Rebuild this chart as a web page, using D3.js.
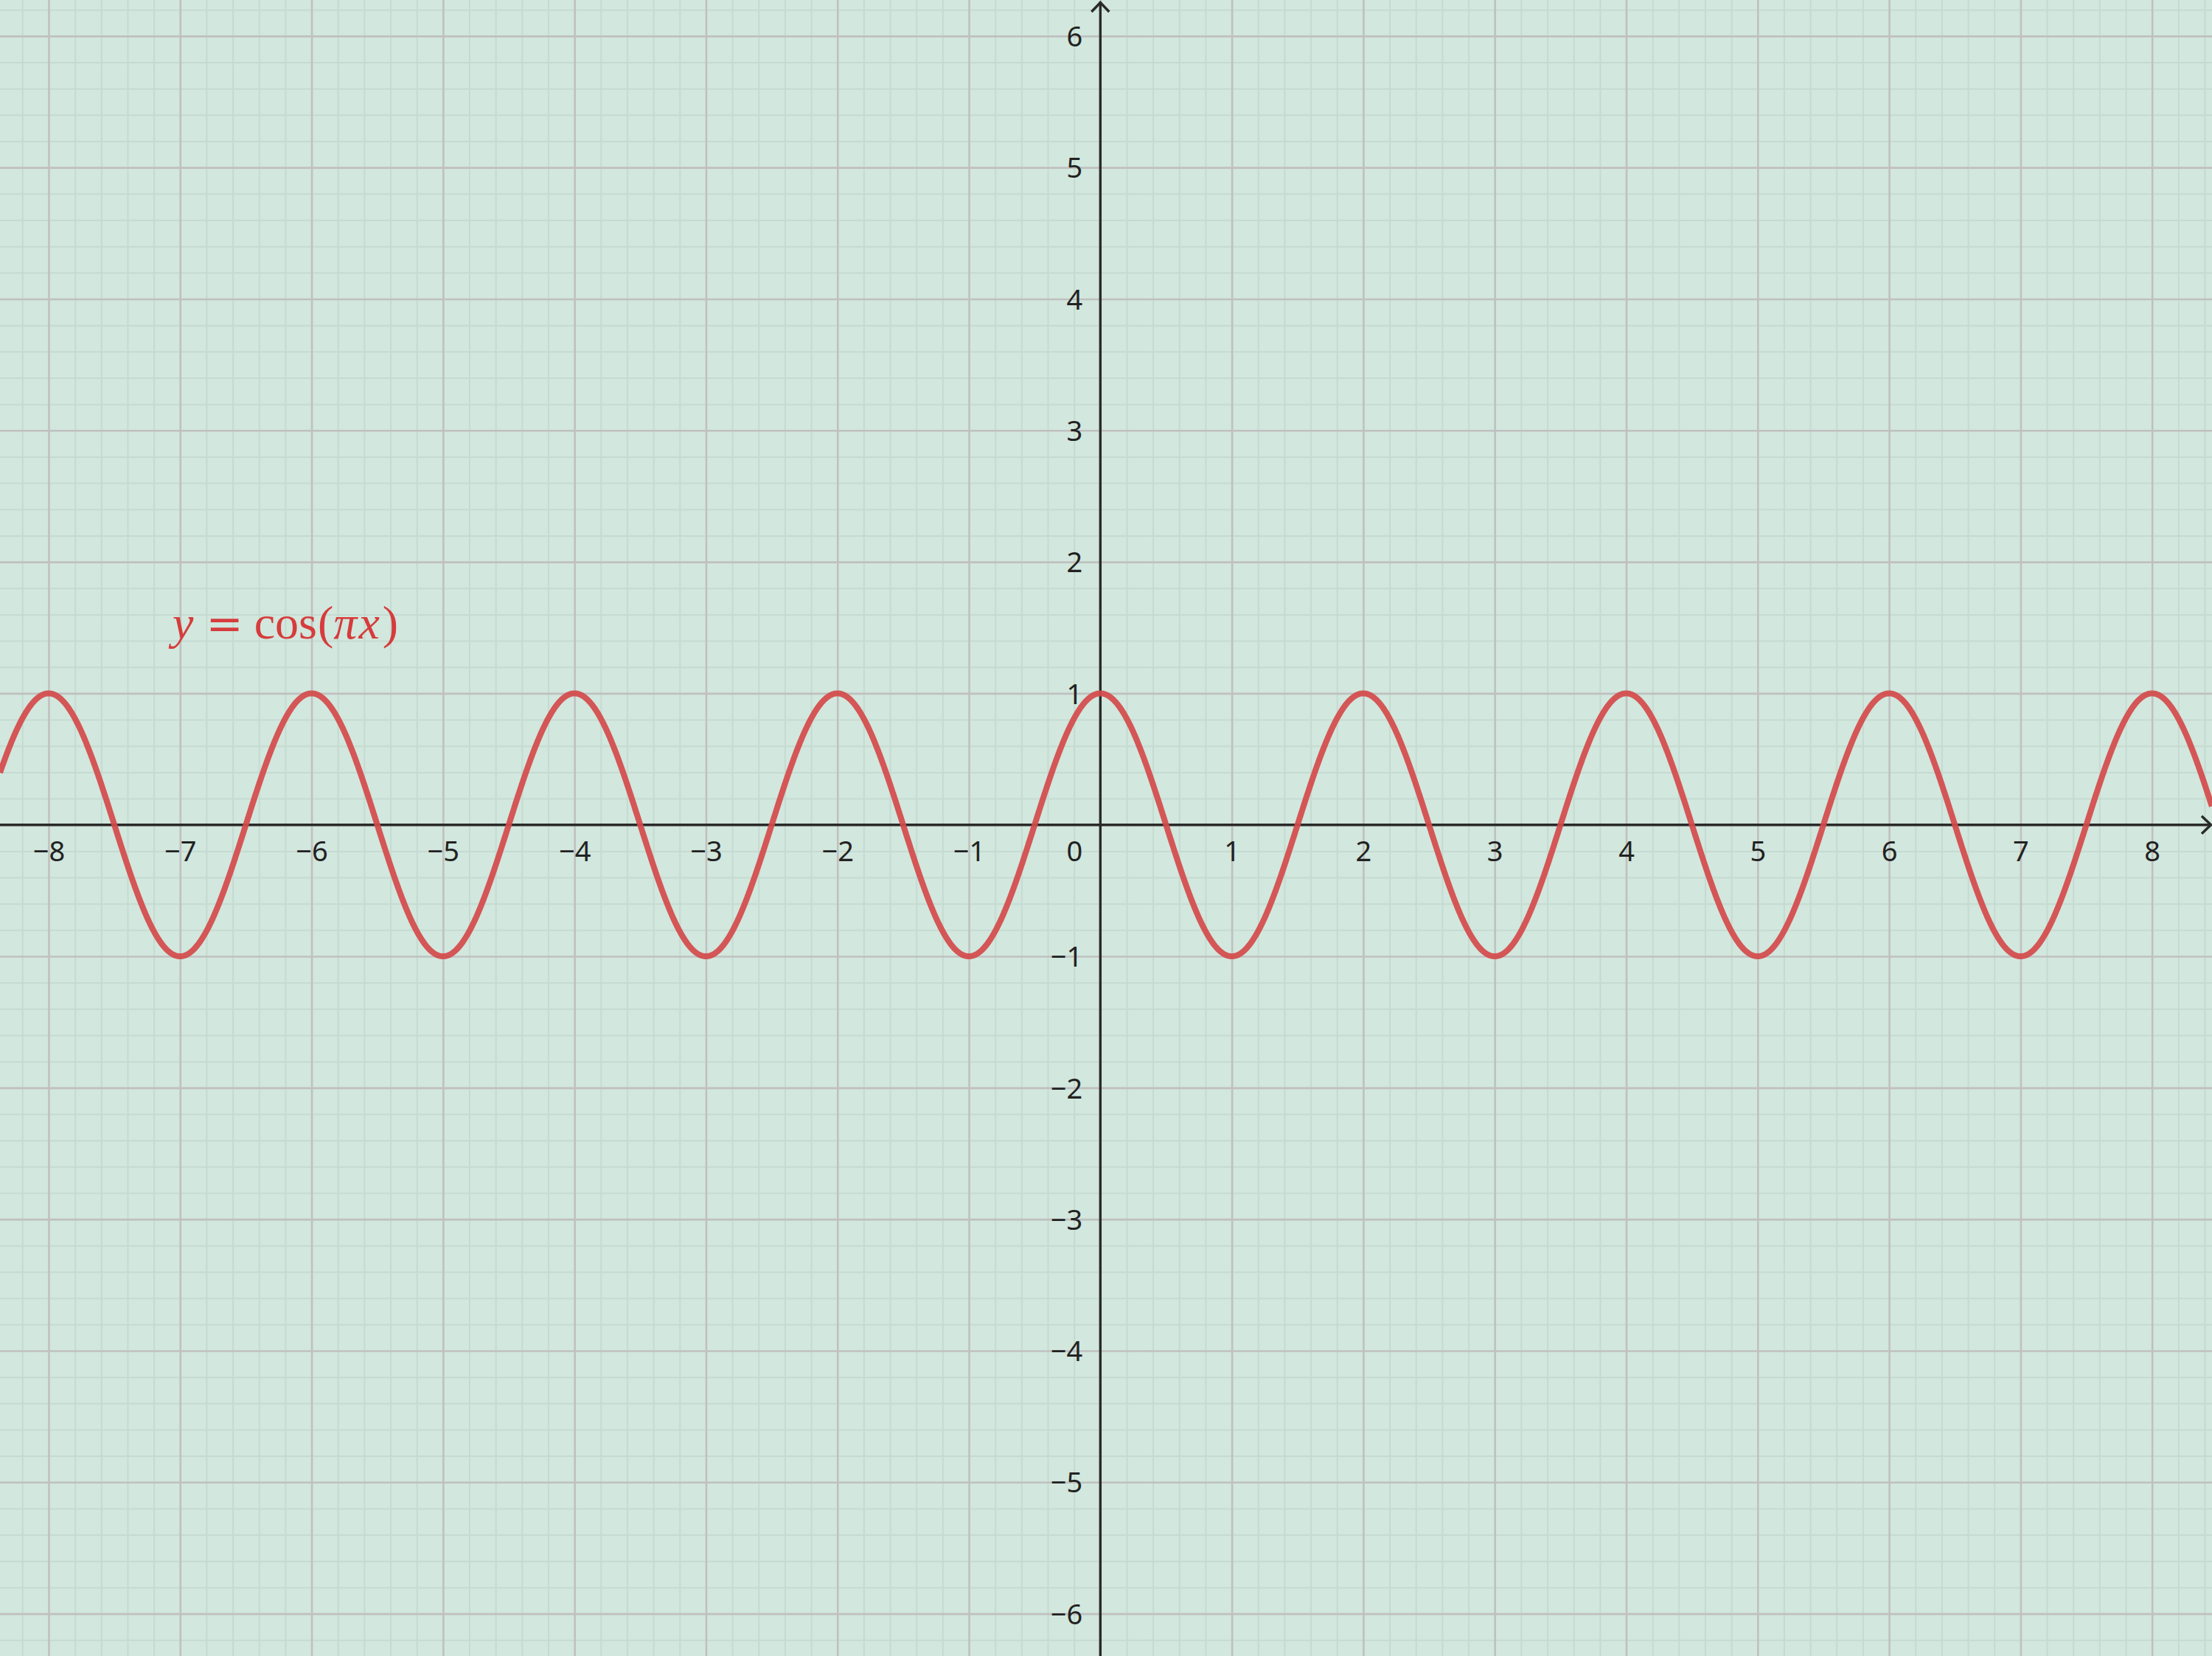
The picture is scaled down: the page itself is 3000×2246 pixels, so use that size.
<!DOCTYPE html>
<html>
<head>
<meta charset="utf-8">
<script src="https://cdn.jsdelivr.net/npm/d3@7"></script>
<style>
  html, body { margin: 0; padding: 0; background: #d2e7dd; }
  svg { display: block; }
</style>
</head>
<body>
<svg id="chart" width="3000" height="2246"></svg>
<script>
// ---- data ----
const xTicks = [-8, -7, -6, -5, -4, -3, -2, -1, 1, 2, 3, 4, 5, 6, 7, 8];
const yTicks = [-6, -5, -4, -3, -2, -1, 1, 2, 3, 4, 5, 6];
const xDomain = [-8.370, 8.456];
const yDomain = [-6.322, 6.274];
const minorStep = 0.2;
// plotted function: y = cos(πx)
const fnLabel = ["y", "=", "cos", "(", "π", "x", ")"];
const fnAmplitude = 1;
const fnFrequency = Math.PI;

// ---- setup ----
const W = 3000, H = 2246;
const svg = d3.select("#chart");
const x = d3.scaleLinear().domain(xDomain).range([0, W]);
const y = d3.scaleLinear().domain(yDomain).range([H, 0]);
const fmt = d3.format("d");

svg.append("rect").attr("width", W).attr("height", H).attr("fill", "#d2e7dd");

// grid values
const minorX = d3.range(Math.ceil(xDomain[0] / minorStep), Math.floor(xDomain[1] / minorStep) + 1)
  .map(i => +(i * minorStep).toFixed(4)).filter(v => Math.abs(v - Math.round(v)) > 1e-6);
const minorY = d3.range(Math.ceil(yDomain[0] / minorStep), Math.floor(yDomain[1] / minorStep) + 1)
  .map(i => +(i * minorStep).toFixed(4)).filter(v => Math.abs(v - Math.round(v)) > 1e-6);
const majorX = d3.range(Math.ceil(xDomain[0]), Math.floor(xDomain[1]) + 1);
const majorY = d3.range(Math.ceil(yDomain[0]), Math.floor(yDomain[1]) + 1);

function grid(g, axis, color, width) {
  g.call(axis);
  g.select(".domain").remove();
  g.selectAll(".tick line").attr("stroke", color).attr("stroke-width", width);
  g.selectAll(".tick text").remove();
}
svg.append("g").attr("transform", `translate(0,${H})`)
  .call(g => grid(g, d3.axisBottom(x).tickValues(minorX).tickSize(-H).tickFormat(""), "#c5dbd1", 2));
svg.append("g")
  .call(g => grid(g, d3.axisLeft(y).tickValues(minorY).tickSize(-W).tickFormat(""), "#c5dbd1", 2));
svg.append("g").attr("transform", `translate(0,${H})`)
  .call(g => grid(g, d3.axisBottom(x).tickValues(majorX).tickSize(-H).tickFormat(""), "#c0c0c0", 2.6));
svg.append("g")
  .call(g => grid(g, d3.axisLeft(y).tickValues(majorY).tickSize(-W).tickFormat(""), "#c0c0c0", 2.6));

// axes lines
const ox = x(0), oy = y(0);
const axisColor = "#2a2a2a";
svg.append("line").attr("x1", 0).attr("x2", W - 1).attr("y1", oy).attr("y2", oy)
  .attr("stroke", axisColor).attr("stroke-width", 3.4);
svg.append("line").attr("x1", ox).attr("x2", ox).attr("y1", 2).attr("y2", H)
  .attr("stroke", axisColor).attr("stroke-width", 3.4);
// arrowheads
svg.append("path").attr("d", `M${W - 14},${oy - 12} L${W - 1.5},${oy} L${W - 14},${oy + 12}`)
  .attr("fill", "none").attr("stroke", axisColor).attr("stroke-width", 3.4);
svg.append("path").attr("d", `M${ox - 12},16 L${ox},3.5 L${ox + 12},16`)
  .attr("fill", "none").attr("stroke", axisColor).attr("stroke-width", 3.4);

// tick labels
const labelFont = "'Noto Sans', 'Open Sans', sans-serif";
const labelSize = 38;
const xAxisG = svg.append("g").attr("transform", `translate(0,${oy})`)
  .call(d3.axisBottom(x).tickValues(xTicks).tickSize(0).tickPadding(0).tickFormat(fmt));
xAxisG.select(".domain").remove();
xAxisG.selectAll(".tick text")
  .attr("y", 49).attr("dy", null)
  .attr("font-family", labelFont).attr("font-size", labelSize).attr("fill", "#222")
  .attr("text-anchor", "middle");

const yAxisG = svg.append("g").attr("transform", `translate(${ox},0)`)
  .call(d3.axisLeft(y).tickValues(yTicks).tickSize(0).tickPadding(0).tickFormat(fmt));
yAxisG.select(".domain").remove();
yAxisG.selectAll(".tick text")
  .attr("x", -24).attr("dy", "0.36em")
  .attr("font-family", labelFont).attr("font-size", labelSize).attr("fill", "#222")
  .attr("text-anchor", "end");

svg.append("text").attr("x", ox - 24).attr("y", oy + 49)
  .attr("font-family", labelFont).attr("font-size", labelSize).attr("fill", "#222")
  .attr("text-anchor", "end").text(fmt(0));

// curve
const samples = d3.range(xDomain[0], xDomain[1] + 0.001, 0.005);
const line = d3.line()
  .x(d => x(d))
  .y(d => y(fnAmplitude * Math.cos(fnFrequency * d)));
svg.append("path").datum(samples).attr("d", line)
  .attr("fill", "none").attr("stroke", "#d44a4a").attr("stroke-opacity", 0.92)
  .attr("stroke-width", 8).attr("stroke-linejoin", "round");

// equation label
const eq = svg.append("text").attr("x", 234).attr("y", 866)
  .attr("font-family", "'Liberation Serif', 'DejaVu Serif', serif").attr("font-size", 64)
  .attr("fill", "#d63c3c");
const italic = new Set(["y", "π", "x"]);
const gaps = { "=": 17, "cos": 15, "(": 1, "π": 0, "x": 2, ")": 4 };
fnLabel.forEach((t, i) => {
  const ts = eq.append("tspan").attr("dx", i === 0 ? 0 : (gaps[t] || 0))
    .attr("font-style", italic.has(t) ? "italic" : "normal").text(t);
  if (t === "=") ts.attr("font-family", "'DejaVu Serif', serif").attr("font-size", 60);
});
</script>
</body>
</html>
